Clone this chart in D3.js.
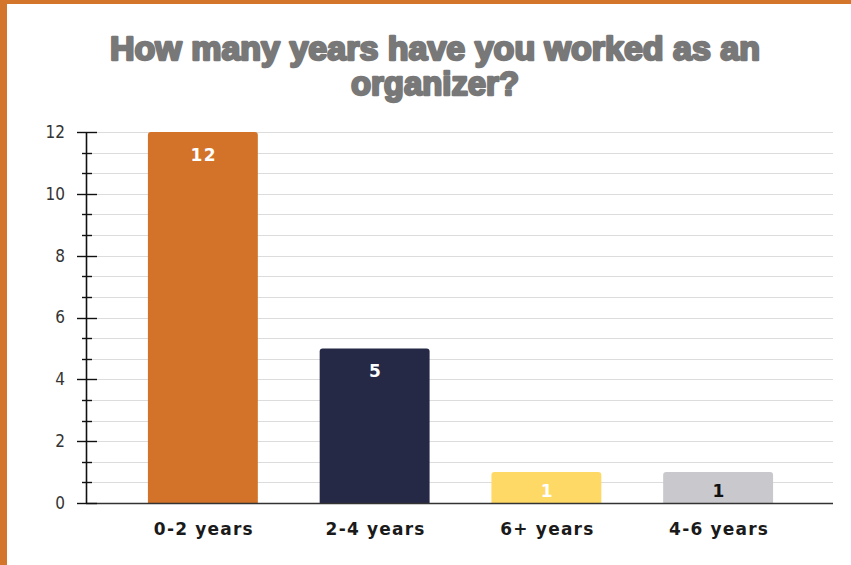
<!DOCTYPE html>
<html>
<head>
<meta charset="utf-8">
<script src="https://cdn.jsdelivr.net/npm/d3@7"></script>
<style>
  html, body { margin: 0; padding: 0; background: #fff; }
  svg { display: block; }
</style>
</head>
<body>
<script>
// Survey answers: years worked as an organizer
const categories = ["0-2 years", "2-4 years", "6+ years", "4-6 years"];
const counts = [12, 5, 1, 1];
const barColors = ["#D3732A", "#252946", "#FFD966", "#C8C8CD"];
const labelColors = ["#ffffff", "#ffffff", "#ffffff", "#111111"];
const yTickLabels = [0, 2, 4, 6, 8, 10, 12];
const titleLines = ["How many years have you worked as an", "organizer?"];

const W = 851, H = 565;
const svg = d3.select("body").append("svg").attr("width", W).attr("height", H);

// frame edges
svg.append("rect").attr("x", 0).attr("y", 0).attr("width", W).attr("height", 4).attr("fill", "#D4752C");
svg.append("rect").attr("x", 0).attr("y", 0).attr("width", 7).attr("height", H).attr("fill", "#D4752C");

// title: heavy, tightly set
const title = svg.append("g")
  .attr("font-family", "'Liberation Sans', Arial, sans-serif")
  .attr("font-weight", "bold")
  .attr("font-size", 33)
  .attr("fill", "#787878")
  .attr("stroke", "#787878")
  .attr("stroke-width", 2.4)
  .attr("stroke-linejoin", "round")
  .attr("text-anchor", "middle");
title.append("text").attr("x", 435).attr("y", 60)
  .attr("textLength", 650).attr("lengthAdjust", "spacingAndGlyphs")
  .text(titleLines[0]);
title.append("text").attr("x", 435).attr("y", 95)
  .attr("textLength", 168).attr("lengthAdjust", "spacingAndGlyphs")
  .text(titleLines[1]);

const axisX = 86, plotRight = 833;
const y = d3.scaleLinear().domain([0, 12]).range([503, 132]);
const x = d3.scaleBand().domain(categories).range([117, 804]).paddingInner(0.36).paddingOuter(0.18);

// light gridlines every 2/3 unit
const minorSteps = d3.range(0, 12.0001, 2 / 3);
svg.append("g").selectAll("line").data(minorSteps.filter(v => v > 0.01)).join("line")
  .attr("x1", axisX).attr("x2", plotRight)
  .attr("y1", d => Math.round(y(d)) + 0.5).attr("y2", d => Math.round(y(d)) + 0.5)
  .attr("stroke", "#dcdcdc").attr("stroke-width", 1);

// bars with rounded top corners
function barPath(x0, w, yTop, yBot, r) {
  return `M${x0},${yBot}V${yTop + r}Q${x0},${yTop} ${x0 + r},${yTop}H${x0 + w - r}Q${x0 + w},${yTop} ${x0 + w},${yTop + r}V${yBot}Z`;
}
svg.append("g").selectAll("path").data(categories).join("path")
  .attr("d", (c, i) => barPath(x(c), x.bandwidth(), y(counts[i]), y(0), 3))
  .attr("fill", (c, i) => barColors[i]);

// value labels inside bars (kept centred when the bar is short)
svg.append("g").selectAll("text").data(categories).join("text")
  .attr("x", c => x(c) + x.bandwidth() / 2 + 1)
  .attr("y", (c, i) => {
    const h = y(0) - y(counts[i]);
    return y(counts[i]) + Math.min(29, h / 2 + 9);
  })
  .attr("text-anchor", "middle")
  .attr("font-family", "'DejaVu Sans', Verdana, sans-serif")
  .attr("font-weight", "bold")
  .attr("font-size", 17)
  .attr("letter-spacing", 1.5)
  .attr("fill", (c, i) => labelColors[i])
  .text((c, i) => counts[i]);

// baseline
svg.append("line").attr("x1", axisX).attr("x2", plotRight)
  .attr("y1", y(0) + 0.5).attr("y2", y(0) + 0.5)
  .attr("stroke", "#333").attr("stroke-width", 1.3);

// y axis: major ticks with labels, minor ticks between
const yAxis = d3.axisLeft(y).tickValues(yTickLabels).tickSize(0).tickPadding(21)
  .tickFormat(d3.format("d"));
const ya = svg.append("g").attr("transform", `translate(${axisX},0)`).call(yAxis);
ya.select(".domain").remove();
ya.attr("font-size", 17).attr("font-family", "'DejaVu Sans Condensed', 'DejaVu Sans', sans-serif");
ya.selectAll("text")
  .attr("font-family", "'DejaVu Sans Condensed', 'DejaVu Sans', sans-serif")
  .attr("font-size", 17).attr("fill", "#333");

svg.append("line").attr("x1", axisX + 0.5).attr("x2", axisX + 0.5)
  .attr("y1", y(12)).attr("y2", y(0) + 1)
  .attr("stroke", "#111").attr("stroke-width", 1.6);
svg.append("g").selectAll("line").data(minorSteps).join("line")
  .attr("x1", d => yTickLabels.some(t => Math.abs(t - d) < 0.01) ? axisX - 9 : axisX - 4)
  .attr("x2", d => yTickLabels.some(t => Math.abs(t - d) < 0.01) ? axisX + 11 : axisX + 6)
  .attr("y1", d => Math.round(y(d)) + 0.5).attr("y2", d => Math.round(y(d)) + 0.5)
  .attr("stroke", "#111").attr("stroke-width", 1.4);

// x axis labels
svg.append("g").selectAll("text").data(categories).join("text")
  .attr("x", c => x(c) + x.bandwidth() / 2 + 1)
  .attr("y", 535)
  .attr("text-anchor", "middle")
  .attr("font-family", "'DejaVu Sans', Verdana, sans-serif")
  .attr("font-weight", "bold")
  .attr("font-size", 17)
  .attr("letter-spacing", 1.2)
  .attr("fill", "#1a1a1a")
  .text(c => c);
</script>
</body>
</html>
